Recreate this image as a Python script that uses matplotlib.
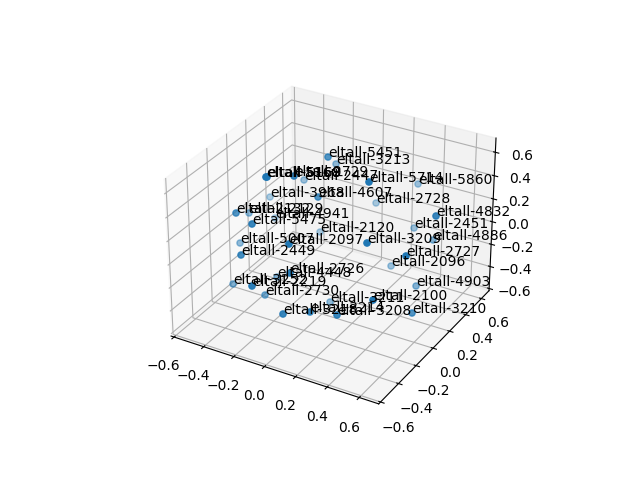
import numpy as np
import matplotlib
matplotlib.use('Agg')
import matplotlib.pyplot as plt

labels = ["5451","3213","5168","5169","2729","2447","5714","5860","3968","4607","2728",
"2132","2129","4941","5475","2120","5007","2097","3209","2449","4832","2451","4886","2727","2096",
"3252","2219","4448","2726","2730","3211","2100","4903","3210","3208","3218","3214"]
px = [328,336,266,267,294,304,369,418,270,318,376,
236,249,275,252,320,240,289,367,241,436,414,433,406,391,
233,252,277,290,265,330,373,416,412,337,283,310]
py = [157,164,177,177,176,180,182,184,197,197,203,
213,213,218,224,232,243,244,243,255,216,228,240,256,266,
284,286,277,273,295,302,300,286,313,315,314,312]
al = [.8,.55,1,1,.9,.5,1,.5,.45,.8,.45,
.8,.55,.4,.9,.45,.55,1,1,.85,.9,.5,.6,1,.5,
.6,.95,.6,.95,.65,.55,1,.6,.8,.9,.9,.9]

fig = plt.figure(figsize=(6.4,4.8),dpi=100)
ax = fig.add_subplot(projection='3d')
XL=(-0.62,0.72);YL=(-0.62,0.70);ZL=(-0.62,0.72)
ax.set_xlim(*XL);ax.set_ylim(*YL);ax.set_zlim(*ZL)
ax.set_xticks(np.arange(-.6,.61,.2));ax.set_yticks(np.arange(-.6,.61,.2));ax.set_zticks(np.arange(-.6,.61,.2))
fig.canvas.draw()
M=ax.get_proj()
Mi=np.linalg.inv(M)
c=np.array([[a,b,d,1] for a in XL for b in YL for d in ZL]).T
from mpl_toolkits.mplot3d import proj3d
pr=proj3d.proj_transform(c[0],c[1],c[2],M)
zmin,zmax=pr[2].min(),pr[2].max()
out=[]
for sx,sy,a in zip(px,py,al):
    n=ax.transData.inverted().transform((sx,480-sy))
    t=(1-a)/.7
    nz=zmin+(0.15+0.7*t)*(zmax-zmin)
    h=Mi@np.array([n[0],n[1],nz,1])
    out.append(h[:3]/h[3])
out=np.array(out)
ax.scatter(out[:,0],out[:,1],out[:,2])
for p,l in zip(out,labels):
    ax.text(p[0],p[1],p[2],"eltall-"+l)
ax.set_xlim(*XL);ax.set_ylim(*YL);ax.set_zlim(*ZL)
fig.savefig('out.png',dpi=100)
